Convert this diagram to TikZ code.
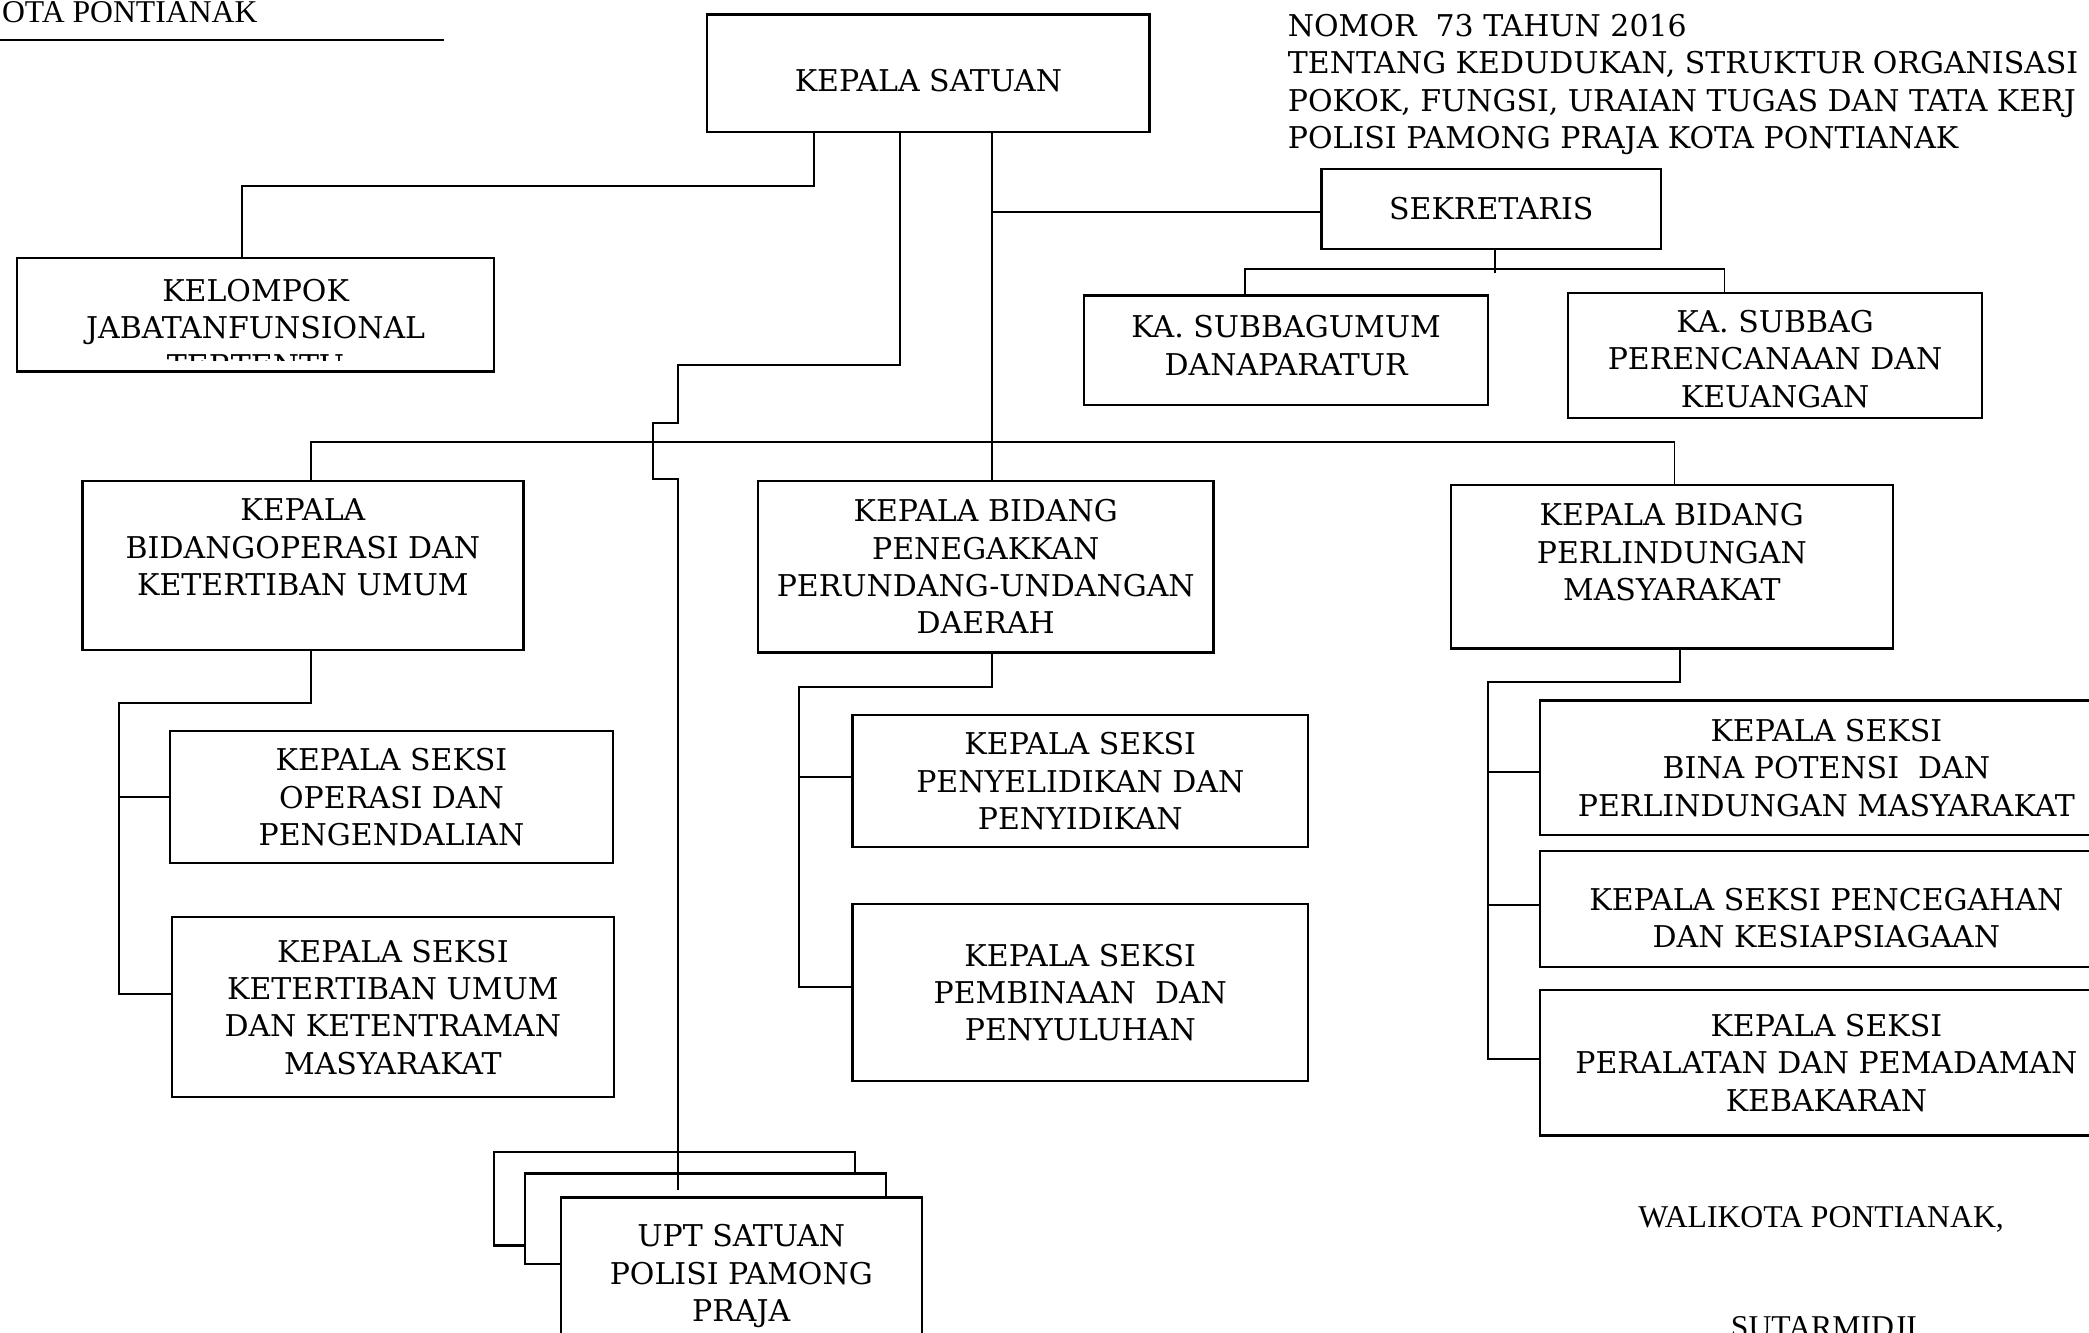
\documentclass[tikz,border=0pt]{standalone}
\usepackage{fontspec}
\usepackage{tikz}
\usetikzlibrary{positioning}
\usetikzlibrary{calc}

\newfontfamily\boxfont{DejaVu Serif}
\newfontfamily\signfont{Liberation Serif}
\newcommand{\boxtext}{\boxfont\fontsize{22.5}{28}\selectfont}
\newcommand{\signtext}{\signfont\fontsize{23.8}{28}\selectfont}
\newcommand{\padtop}[1]{\rule{0pt}{#1}}
\newcommand{\padbot}[1]{\rule[-#1]{0pt}{#1}}

\begin{document}
\begin{tikzpicture}[
                x=1pt, y=-1pt,
                line width=1.4pt,
                every node/.style={inner sep=0pt},
                unitbox/.style={
                        draw,
                        line width=1.7pt,
                        fill=white,
                        align=center,
                        anchor=north west,
                        font=\boxtext
                    },
                textnode/.style={
                        align=center,
                        font=\boxtext
                    }
            ]

            \path[use as bounding box, fill=white] (0,0) rectangle (1568,1000);
            \clip (0,0) rectangle (1568,1000);

            % Header texts
            \node[font=\signtext, anchor=base east] (kota) at (194,17) {OTA PONTIANAK};
            \draw[line width=2pt] (0,30) -- (333,30);
            \node[textnode, align=left, anchor=north west] (perda) at (966,10) {NOMOR\ \ 73 TAHUN 2016\\TENTANG KEDUDUKAN, STRUKTUR ORGANISASI\\POKOK, FUNGSI, URAIAN TUGAS DAN TATA KERJ\\POLISI PAMONG PRAJA KOTA PONTIANAK};

            % Top level
            \node[unitbox, minimum width=332pt, minimum height=88pt] (kasat) at (530,10) {\padtop{27.4pt}KEPALA SATUAN};
            \node[unitbox, minimum width=358pt, minimum height=85pt] (jafung) at (12,193) {};
            \begin{scope}
                \clip (jafung.north west) rectangle ($(jafung.south east)+(0,-9)$);
                \node[textnode, anchor=north] (jafungtext) at ($(jafung.north)+(0,16)$) {KELOMPOK\\JABATANFUNSIONAL\\TERTENTU};
            \end{scope}

            % Secretariat
            \node[unitbox, minimum width=255pt, minimum height=60pt] (sekre) at (991,126) {SEKRETARIS};
            \node[unitbox, minimum width=303pt, minimum height=82pt] (umum) at (813,221) {KA. SUBBAGUMUM\\DANAPARATUR\padbot{7pt}};
            \node[unitbox, minimum width=311pt, minimum height=94pt] (renkeu) at (1176,219) {\padtop{22pt}KA. SUBBAG\\PERENCANAAN DAN\\KEUANGAN};

            % Divisions
            \node[unitbox, minimum width=331pt, minimum height=127pt] (opstib) at (61,360) {KEPALA\\BIDANGOPERASI DAN\\KETERTIBAN UMUM\padbot{27pt}};
            \node[unitbox, minimum width=342pt, minimum height=129pt] (gakda) at (568,360) {KEPALA BIDANG\\PENEGAKKAN\\PERUNDANG-UNDANGAN\\DAERAH};
            \node[unitbox, minimum width=332pt, minimum height=123pt] (linmas) at (1088,363) {KEPALA BIDANG\\PERLINDUNGAN\\MASYARAKAT\padbot{22pt}};

            % Sections
            \node[unitbox, minimum width=332pt, minimum height=99pt] (ops) at (127,548) {KEPALA SEKSI\\OPERASI DAN\\PENGENDALIAN};
            \node[unitbox, minimum width=332pt, minimum height=135pt, below=39pt of ops.south west, anchor=north west, xshift=1pt] (tibum) {KEPALA SEKSI\\KETERTIBAN UMUM\\DAN KETENTRAMAN\\MASYARAKAT};
            \node[unitbox, minimum width=342pt, minimum height=99pt] (lidik) at (639,536) {KEPALA SEKSI\\PENYELIDIKAN DAN\\PENYIDIKAN};
            \node[unitbox, minimum width=342pt, minimum height=133pt, below=41pt of lidik.south west, anchor=north west] (binluh) {KEPALA SEKSI\\PEMBINAAN\ \ DAN\\PENYULUHAN};
            \node[unitbox, minimum width=430pt, minimum height=101pt] (binpot) at (1155,525) {KEPALA SEKSI\\BINA POTENSI\ \ DAN\\PERLINDUNGAN MASYARAKAT};
            \node[unitbox, minimum width=430pt, minimum height=87pt, below=10pt of binpot.south west, anchor=north west] (cegah) {\padtop{30.4pt}KEPALA SEKSI PENCEGAHAN\\DAN KESIAPSIAGAAN};
            \node[unitbox, minimum width=430pt, minimum height=109pt, below=16pt of cegah.south west, anchor=north west] (damkar) {KEPALA SEKSI\\PERALATAN DAN PEMADAMAN\\KEBAKARAN};

            % UPT (stacked)
            \node[unitbox, minimum width=271pt, minimum height=70pt] (upt3) at (370,864) {};
            \node[unitbox, minimum width=271pt, minimum height=68pt, below right=16pt and 23pt of upt3.north west] (upt2) {};
            \node[unitbox, minimum width=271pt, minimum height=118pt, below right=18pt and 27pt of upt2.north west] (upt) {UPT SATUAN\\POLISI PAMONG\\PRAJA};
            \coordinate (uptin) at ($(upt.north)+(-47.5,-5)$);

            % Signature
            \node[font=\signtext, anchor=base west] (walikota) at (1229,921) {WALIKOTA PONTIANAK,};
            \node[font=\signtext, anchor=base] (nama) at (1369,1004) {SUTARMIDJI};

            % Lines from the head
            \draw ($(kasat.south)+(-86,0)$) -- ++(0,40) -| ($(jafung.north)+(-10,0)$);
            \draw ($(kasat.south)+(-21,0)$) -- ++(0,174) -| ++(-167,44) -| ++(-19,42) -| (uptin);
            \draw ($(kasat.south)+(48,0)$) coordinate (kx) -- (kx |- gakda.north);
            \draw (kx |- sekre.west) ++(0,2) -- ($(sekre.west)+(0,2)$);
            \draw ($(opstib.north)+(6,0)$) -- ++(0,-28) -| ($(linmas.north)+(2,0)$);

            % Secretariat lines
            \draw ($(sekre.south)+(3,0)$) -- ++(0,17);
            \draw ($(umum.north)+(-31,0)$) -- ++(0,-19) -| ($(renkeu.north)+(-38,0)$);

            % Section lines
            \draw ($(opstib.south)+(6,0)$) -- ++(0,39) -| ($(tibum.west)+(-39,-10)$) -- ($(tibum.west)+(0,-10)$);
            \draw (ops.west) -- ++(-38,0);
            \draw ($(gakda.south)+(5,0)$) -- ++(0,25) -| ($(binluh.west)+(-39,-4)$) -- ($(binluh.west)+(0,-4)$);
            \draw ($(lidik.west)+(0,-3)$) -- ++(-39,0);
            \draw ($(linmas.south)+(6,0)$) -- ++(0,24) -| ($(damkar.west)+(-38,-3)$) -- ($(damkar.west)+(0,-3)$);
            \draw ($(binpot.west)+(0,3)$) -- ++(-38,0);
            \draw ($(cegah.west)+(0,-3)$) -- ++(-38,0);

        \end{tikzpicture}
\end{document}
